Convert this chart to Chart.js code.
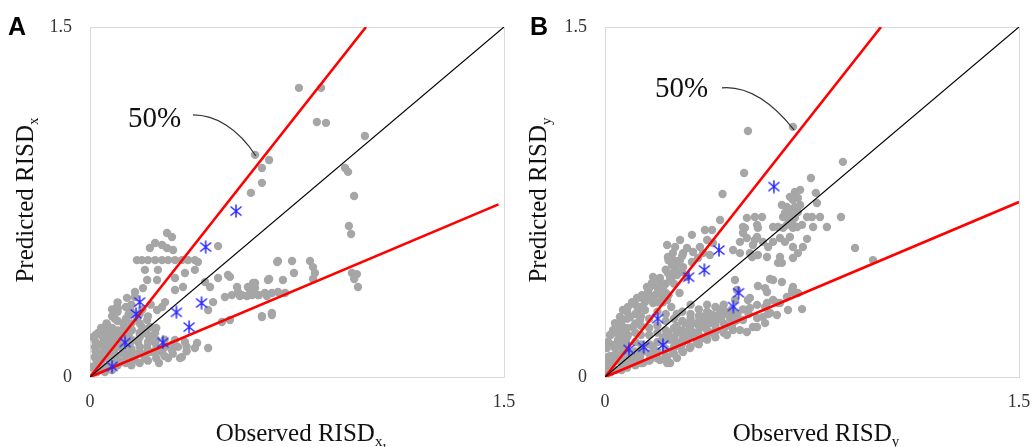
<!DOCTYPE html>
<html>
<head>
<meta charset="utf-8">
<script src="https://cdn.jsdelivr.net/npm/chart.js@4.4.1/dist/chart.umd.min.js"></script>
<style>
  body { margin: 0; background: #fff; width: 1032px; height: 447px; overflow: hidden; position: relative; }
  .panel { position: absolute; top: 0; }
</style>
</head>
<body>
<div class="panel" style="left:0"><canvas id="chartA" width="520" height="447"></canvas></div>
<div class="panel" style="left:515px"><canvas id="chartB" width="517" height="447"></canvas></div>
<script>
// axis ticks
const tickValues = [0, 1.5];

// reference lines (1:1 and +/-50%)
const parityLine = [[0, 0], [1.5, 1.5]];
const upperBound = [[0, 0], [1, 1.5]];
const lowerBoundA = [[0, 0], [1.48, 0.74]];
const lowerBoundB = [[0, 0], [1.5, 0.75]];

// panel A: observed vs predicted RISDx (gray = all, stars = highlighted)
const scatterA = [
  [0.757,1.239],[0.837,1.239],[0.822,1.093],[0.855,1.089],[0.996,1.033],[0.598,0.952],[0.649,0.930],[0.623,0.896],
  [0.623,0.832],[0.583,0.789],[0.924,0.896],[0.935,0.879],[0.957,0.776],[0.938,0.647],[0.946,0.613],[0.681,0.497],
  [0.732,0.497],[0.797,0.497],[0.808,0.471],[0.815,0.446],[0.808,0.420],[0.739,0.446],[0.699,0.416],[0.649,0.420],
  [0.591,0.403],[0.598,0.381],[0.580,0.373],[0.569,0.347],[0.543,0.347],[0.612,0.351],[0.641,0.347],[0.707,0.360],
  [0.533,0.386],[0.507,0.429],[0.949,0.446],[0.967,0.441],[0.957,0.420],[0.971,0.386],[0.623,0.261],[0.659,0.274],
  [0.464,0.561],[0.279,0.617],[0.297,0.600],[0.236,0.574],[0.261,0.566],[0.217,0.553],[0.279,0.553],[0.301,0.544],
  [0.170,0.501],[0.188,0.501],[0.210,0.501],[0.236,0.501],[0.261,0.501],[0.283,0.501],[0.308,0.501],[0.333,0.501],
  [0.355,0.501],[0.380,0.501],[0.391,0.493],[0.678,0.493],[0.199,0.459],[0.246,0.459],[0.380,0.459],[0.344,0.446],
  [0.308,0.424],[0.207,0.416],[0.243,0.416],[0.500,0.437],[0.464,0.424],[0.417,0.407],[0.435,0.386],[0.645,0.416],
  [0.598,0.403],[0.572,0.386],[0.536,0.364],[0.514,0.351],[0.489,0.343],[0.551,0.351],[0.587,0.351],[0.609,0.351],
  [0.634,0.360],[0.659,0.360],[0.681,0.364],[0.337,0.386],[0.308,0.373],[0.192,0.381],[0.163,0.364],[0.134,0.339],
  [0.101,0.296],[0.272,0.321],[0.261,0.300],[0.243,0.287],[0.446,0.321],[0.428,0.287],[0.623,0.257],[0.659,0.266],
  [0.478,0.236],[0.507,0.244],[0.054,0.214],[0.029,0.189],[0.011,0.171],[0.054,0.171],[0.091,0.189],[0.116,0.201],
  [0.152,0.201],[0.188,0.214],[0.207,0.244],[0.217,0.214],[0.225,0.167],[0.236,0.189],[0.236,0.146],[0.018,0.129],
  [0.047,0.129],[0.080,0.137],[0.109,0.146],[0.145,0.146],[0.174,0.150],[0.207,0.129],[0.018,0.086],[0.047,0.086],
  [0.083,0.094],[0.120,0.103],[0.152,0.107],[0.181,0.107],[0.217,0.107],[0.007,0.043],[0.036,0.051],[0.072,0.060],
  [0.116,0.064],[0.152,0.064],[0.054,0.021],[0.025,0.021],[0.308,0.159],[0.344,0.150],[0.388,0.146],[0.428,0.124],
  [0.333,0.086],[0.283,0.081],[0.261,0.107],[0.297,0.116],[0.236,0.103],[0.272,0.129],[0.319,0.129],[0.326,0.081],
  [0.380,0.124],[0.062,0.223],[0.098,0.300],[0.163,0.343],[0.03,0.10],[0.06,0.11],[0.09,0.12],[0.12,0.12],
  [0.10,0.07],[0.13,0.09],[0.16,0.08],[0.05,0.16],[0.08,0.16],[0.11,0.17],[0.14,0.18],[0.04,0.06],
  [0.07,0.04],[0.02,0.13],[0.12,0.23],[0.09,0.25],[0.17,0.25],[0.18,0.17],[0.20,0.19],[0.14,0.27],
  [0.19,0.29],[0.22,0.31],[0.20,0.08],[0.25,0.06],
  [0.02,0.02],[0.02,0.05],[0.02,0.08],[0.02,0.11],[0.02,0.15],[0.02,0.18],[0.04,0.03],[0.04,0.07],
  [0.04,0.10],[0.04,0.14],[0.04,0.18],[0.04,0.21],[0.06,0.04],[0.06,0.08],[0.06,0.12],[0.06,0.15],
  [0.06,0.19],[0.06,0.23],[0.08,0.03],[0.08,0.07],[0.08,0.10],[0.08,0.14],[0.08,0.18],[0.08,0.21],
  [0.08,0.26],[0.08,0.29],[0.10,0.05],[0.10,0.09],[0.10,0.13],[0.10,0.16],[0.10,0.20],[0.10,0.24],
  [0.10,0.28],[0.10,0.32],[0.13,0.06],[0.13,0.10],[0.13,0.14],[0.13,0.17],[0.13,0.21],[0.13,0.25],
  [0.13,0.30],[0.15,0.05],[0.15,0.09],[0.15,0.12],[0.15,0.16],[0.15,0.23],[0.15,0.28],[0.15,0.31],
  [0.18,0.06],[0.18,0.10],[0.18,0.13],[0.18,0.19],[0.18,0.23],[0.18,0.27],[0.21,0.07],[0.21,0.11],
  [0.21,0.15],[0.21,0.18],[0.21,0.26],[0.24,0.08],[0.24,0.12],[0.24,0.16],[0.24,0.21],[0.27,0.09],
  [0.27,0.13],[0.27,0.16],[0.30,0.10],[0.30,0.14],[0.35,0.11],[0.35,0.13]
];
const starsA = [
  [0.529,0.711],[0.419,0.557],[0.180,0.321],[0.167,0.270],[0.313,0.277],
  [0.404,0.317],[0.359,0.214],[0.264,0.148],[0.127,0.148],[0.080,0.045]
];

// panel B: observed vs predicted RISDy
const scatterB = [
  [0.518,1.054],[0.681,1.072],[0.504,0.874],[0.862,0.922],[0.746,0.853],[0.426,0.784],[0.707,0.802],[0.688,0.793],
  [0.670,0.772],[0.681,0.759],[0.699,0.767],[0.707,0.737],[0.688,0.729],[0.659,0.729],[0.641,0.737],[0.670,0.716],
  [0.652,0.703],[0.681,0.703],[0.699,0.707],[0.645,0.686],[0.663,0.682],[0.688,0.682],[0.678,0.660],[0.659,0.652],
  [0.681,0.639],[0.696,0.643],[0.714,0.652],[0.764,0.789],[0.768,0.746],[0.732,0.686],[0.750,0.686],[0.779,0.686],
  [0.855,0.686],[0.754,0.643],[0.804,0.643],[0.514,0.682],[0.543,0.686],[0.569,0.686],[0.507,0.639],[0.554,0.639],
  [0.609,0.643],[0.627,0.643],[0.645,0.639],[0.514,0.596],[0.543,0.587],[0.572,0.579],[0.609,0.579],[0.634,0.596],
  [0.670,0.600],[0.732,0.592],[0.717,0.557],[0.681,0.557],[0.652,0.579],[0.536,0.566],[0.525,0.531],[0.554,0.523],
  [0.591,0.557],[0.587,0.514],[0.634,0.514],[0.699,0.531],[0.627,0.489],[0.906,0.553],[0.971,0.501],[0.598,0.420],
  [0.554,0.390],[0.587,0.364],[0.678,0.373],[0.699,0.360],[0.518,0.330],[0.627,0.317],[0.663,0.287],[0.714,0.291],
  [0.580,0.300],[0.591,0.270],[0.623,0.266],[0.580,0.231],[0.551,0.214],[0.500,0.643],[0.551,0.652],[0.500,0.617],
  [0.551,0.600],[0.489,0.579],[0.464,0.544],[0.489,0.531],[0.533,0.514],[0.641,0.489],[0.681,0.510],[0.417,0.673],
  [0.362,0.630],[0.388,0.630],[0.315,0.609],[0.272,0.587],[0.370,0.587],[0.391,0.574],[0.225,0.566],[0.254,0.557],
  [0.297,0.553],[0.344,0.557],[0.246,0.531],[0.283,0.531],[0.319,0.536],[0.355,0.531],[0.380,0.523],[0.228,0.514],
  [0.272,0.501],[0.315,0.493],[0.337,0.510],[0.243,0.480],[0.283,0.471],[0.254,0.459],[0.228,0.446],[0.261,0.437],
  [0.297,0.429],[0.236,0.424],[0.199,0.424],[0.174,0.429],[0.170,0.403],[0.152,0.386],[0.188,0.386],[0.210,0.394],
  [0.156,0.364],[0.134,0.351],[0.181,0.351],[0.207,0.343],[0.116,0.339],[0.098,0.321],[0.145,0.321],[0.174,0.317],
  [0.225,0.330],[0.083,0.300],[0.065,0.287],[0.120,0.287],[0.145,0.287],[0.054,0.257],[0.091,0.257],[0.127,0.244],
  [0.036,0.231],[0.065,0.214],[0.101,0.214],[0.029,0.201],[0.018,0.180],[0.054,0.180],[0.083,0.180],[0.011,0.150],
  [0.047,0.159],[0.007,0.124],[0.036,0.124],[0.065,0.116],[0.011,0.086],[0.043,0.086],[0.007,0.060],[0.029,0.060],
  [0.005,0.030],[0.025,0.030],[0.261,0.146],[0.283,0.180],[0.308,0.214],[0.344,0.244],[0.370,0.253],[0.391,0.266],
  [0.417,0.274],[0.442,0.279],[0.406,0.244],[0.380,0.231],[0.344,0.210],[0.319,0.189],[0.297,0.159],[0.272,0.129],
  [0.246,0.107],[0.225,0.086],[0.199,0.073],[0.225,0.060],[0.163,0.073],[0.127,0.086],[0.453,0.253],[0.478,0.244],
  [0.500,0.244],[0.435,0.214],[0.406,0.201],[0.380,0.189],[0.355,0.167],[0.333,0.146],[0.308,0.124],[0.283,0.107],
  [0.261,0.081],[0.236,0.060],[0.464,0.201],[0.489,0.201],[0.514,0.193],[0.442,0.180],[0.536,0.214],[0.551,0.253],
  [0.572,0.257],[0.598,0.274],[0.525,0.296],[0.551,0.309],[0.587,0.317],[0.609,0.330],[0.634,0.317],[0.659,0.343],
  [0.678,0.364],[0.580,0.381],[0.609,0.416],[0.641,0.407],[0.681,0.386],[0.471,0.416],[0.525,0.339],[0.471,0.330],
  [0.478,0.373],[0.101,0.103],[0.138,0.116],[0.174,0.129],[0.210,0.146],[0.236,0.159],[0.261,0.189],[0.174,0.103],
  [0.101,0.060],[0.065,0.043],[0.138,0.060],[0.054,0.073],[0.091,0.081],
  [0.02,0.02],[0.02,0.05],[0.02,0.09],[0.02,0.14],[0.02,0.18],[0.04,0.03],[0.04,0.07],[0.04,0.10],
  [0.04,0.14],[0.04,0.19],[0.04,0.22],[0.06,0.03],[0.06,0.06],[0.06,0.09],[0.06,0.13],[0.06,0.16],
  [0.06,0.20],[0.06,0.24],[0.08,0.04],[0.08,0.07],[0.08,0.10],[0.08,0.14],[0.08,0.17],[0.08,0.21],
  [0.08,0.25],[0.08,0.28],[0.11,0.05],[0.11,0.08],[0.11,0.11],[0.11,0.15],[0.11,0.19],[0.11,0.23],
  [0.11,0.27],[0.11,0.31],[0.13,0.06],[0.13,0.10],[0.13,0.14],[0.13,0.18],[0.13,0.22],[0.13,0.26],
  [0.13,0.30],[0.13,0.34],[0.16,0.07],[0.16,0.10],[0.16,0.14],[0.16,0.18],[0.16,0.21],[0.16,0.25],
  [0.16,0.34],[0.16,0.38],[0.19,0.08],[0.19,0.11],[0.19,0.15],[0.19,0.19],[0.19,0.22],[0.19,0.28],
  [0.19,0.32],[0.19,0.36],[0.19,0.41],[0.22,0.09],[0.22,0.12],[0.22,0.16],[0.22,0.20],[0.22,0.24],
  [0.22,0.36],[0.22,0.40],[0.22,0.46],[0.25,0.10],[0.25,0.13],[0.25,0.17],[0.25,0.21],[0.25,0.25],
  [0.25,0.40],[0.25,0.45],[0.25,0.50],[0.28,0.11],[0.28,0.14],[0.28,0.16],[0.28,0.20],[0.28,0.24],
  [0.28,0.28],[0.28,0.45],[0.28,0.52],[0.31,0.13],[0.31,0.17],[0.31,0.20],[0.31,0.23],[0.31,0.27],
  [0.31,0.31],[0.34,0.14],[0.34,0.18],[0.34,0.22],[0.34,0.26],[0.34,0.29],[0.37,0.16],[0.37,0.20],
  [0.37,0.24],[0.37,0.28],[0.37,0.31],[0.40,0.17],[0.40,0.22],[0.40,0.26],[0.40,0.30],[0.43,0.19],
  [0.43,0.23],[0.43,0.27],[0.43,0.31],[0.46,0.22],[0.46,0.26],[0.46,0.29],
  [0.21,0.17],[0.23,0.19],[0.26,0.22],[0.29,0.19],[0.29,0.23],[0.31,0.25],[0.33,0.19],[0.33,0.23],
  [0.35,0.26],[0.36,0.22],[0.38,0.27],[0.39,0.24],[0.40,0.20],[0.42,0.25],[0.42,0.29],[0.44,0.22],
  [0.45,0.27],[0.47,0.24],[0.48,0.27],[0.50,0.29],[0.52,0.27],[0.26,0.27],[0.24,0.30],[0.22,0.27],
  [0.21,0.32],[0.23,0.35],[0.21,0.38],[0.24,0.42],[0.26,0.48],[0.23,0.50],[0.27,0.36]
];
const starsB = [
  [0.612,0.816],[0.413,0.544],[0.360,0.459],[0.303,0.428],[0.484,0.361],
  [0.465,0.302],[0.191,0.250],[0.087,0.118],[0.140,0.128],[0.210,0.137]
];

const SERIF = '"Liberation Serif", "Times New Roman", serif';

function toXY(list) {
  return list.map(p => ({ x: p[0], y: p[1] }));
}

// excel-like asterisk marker
function asteriskMarker() {
  const c = document.createElement('canvas');
  c.width = 14; c.height = 14;
  const g = c.getContext('2d');
  g.strokeStyle = 'rgb(40,40,255)';
  g.lineWidth = 1.5;
  g.beginPath();
  g.moveTo(7, 0.5); g.lineTo(7, 13.5);
  g.moveTo(1.5, 2.5); g.lineTo(12.5, 11.5);
  g.moveTo(1.5, 11.5); g.lineTo(12.5, 2.5);
  g.stroke();
  return c;
}
const asterisk = asteriskMarker();

function drawTitle(ctx, main, sub, cx, cy, rotate) {
  ctx.save();
  ctx.translate(cx, cy);
  if (rotate) ctx.rotate(-Math.PI / 2);
  ctx.fillStyle = '#111';
  ctx.textAlign = 'left';
  ctx.textBaseline = 'alphabetic';
  ctx.font = '25px ' + SERIF;
  const w1 = ctx.measureText(main).width;
  ctx.font = '15px ' + SERIF;
  const w2 = ctx.measureText(sub).width;
  const start = -(w1 + w2) / 2;
  ctx.font = '25px ' + SERIF;
  ctx.fillText(main, start, 0);
  ctx.font = '15px ' + SERIF;
  ctx.fillText(sub, start + w1, 5);
  ctx.restore();
}

const decorPlugin = {
  id: 'decor',
  beforeDatasetsDraw(chart, args, opts) {
    const a = chart.chartArea;
    const ctx = chart.ctx;
    ctx.save();
    ctx.strokeStyle = '#d9d9d9';
    ctx.lineWidth = 1;
    ctx.strokeRect(a.left + 0.5, a.top + 0.5, a.right - a.left, a.bottom - a.top);
    ctx.restore();
  },
  afterDraw(chart, args, opts) {
    const a = chart.chartArea;
    const ctx = chart.ctx;
    const xs = chart.scales.x, ys = chart.scales.y;
    // panel letter
    ctx.save();
    ctx.fillStyle = '#000';
    ctx.font = 'bold 25px "Liberation Sans", Arial, sans-serif';
    ctx.textAlign = 'left';
    ctx.textBaseline = 'alphabetic';
    ctx.fillText(opts.letter, opts.letterX, 35);
    ctx.restore();
    // axis titles
    drawTitle(ctx, 'Observed RISD', opts.xSub, (a.left + a.right) / 2 + 4, 441, false);
    drawTitle(ctx, 'Predicted RISD', opts.ySub, opts.yTitleX, (a.top + a.bottom) / 2 - 2, true);
    // 50% callout
    const n = opts.note;
    ctx.save();
    ctx.fillStyle = '#111';
    ctx.font = '29px ' + SERIF;
    ctx.textAlign = 'left';
    ctx.textBaseline = 'alphabetic';
    ctx.fillText(n.text, xs.getPixelForValue(n.at[0]), ys.getPixelForValue(n.at[1]));
    const p = n.curve.map(q => [xs.getPixelForValue(q[0]), ys.getPixelForValue(q[1])]);
    ctx.strokeStyle = '#333';
    ctx.lineWidth = 1.2;
    ctx.beginPath();
    ctx.moveTo(p[0][0], p[0][1]);
    ctx.bezierCurveTo(p[1][0], p[1][1], p[2][0], p[2][1], p[3][0], p[3][1]);
    ctx.stroke();
    ctx.restore();
  }
};

function lineSet(points, color, width) {
  return {
    data: toXY(points),
    showLine: true,
    borderColor: color,
    borderWidth: width,
    pointRadius: 0,
    fill: false
  };
}

function makeChart(id, gray, stars, lower, rightPad, deco) {
  return new Chart(document.getElementById(id), {
    type: 'scatter',
    data: {
      datasets: [
        { data: toXY(stars), pointStyle: asterisk, pointRadius: 7, backgroundColor: 'rgb(40,40,255)' },
        lineSet(parityLine, '#000', 1.2),
        lineSet(upperBound, 'rgb(255,0,0)', 2.6),
        lineSet(lower, 'rgb(255,0,0)', 2.6),
        { data: toXY(gray), pointRadius: 4.2, backgroundColor: '#a6a6a6', borderWidth: 0 }
      ]
    },
    options: {
      responsive: false,
      animation: false,
      layout: { padding: { left: 0, right: rightPad, top: 27, bottom: 0 } },
      plugins: {
        legend: { display: false },
        tooltip: { enabled: false },
        decor: deco
      },
      scales: {
        x: {
          type: 'linear', min: 0, max: 1.5,
          grid: { display: false, drawTicks: false },
          border: { display: false },
          afterBuildTicks: s => { s.ticks = tickValues.map(v => ({ value: v })); },
          afterFit: s => { s.height = 70; s.paddingLeft = 0; s.paddingRight = 0; },
          ticks: { padding: 14, color: '#333', font: { family: SERIF, size: 18 }, callback: v => String(v) }
        },
        y: {
          type: 'linear', min: 0, max: 1.5,
          grid: { display: false, drawTicks: false },
          border: { display: false },
          afterBuildTicks: s => { s.ticks = tickValues.map(v => ({ value: v })); },
          afterFit: s => { s.width = 90; s.paddingTop = 0; s.paddingBottom = 0; },
          ticks: { padding: 18, color: '#333', font: { family: SERIF, size: 18 }, callback: v => String(v) }
        }
      }
    },
    plugins: [decorPlugin]
  });
}

makeChart('chartA', scatterA, starsA, lowerBoundA, 16, {
  letter: 'A', letterX: 8, xSub: 'x,', ySub: 'x', yTitleX: 33,
  note: { text: '50%', at: [0.138, 1.07], curve: [[0.373, 1.123], [0.453, 1.123], [0.536, 1.067], [0.601, 0.947]] }
});
makeChart('chartB', scatterB, starsB, lowerBoundB, 13, {
  letter: 'B', letterX: 15, xSub: 'y', ySub: 'y', yTitleX: 31,
  note: { text: '50%', at: [0.181, 1.2], curve: [[0.424, 1.239], [0.507, 1.247], [0.598, 1.187], [0.685, 1.059]] }
});
</script>
</body>
</html>
